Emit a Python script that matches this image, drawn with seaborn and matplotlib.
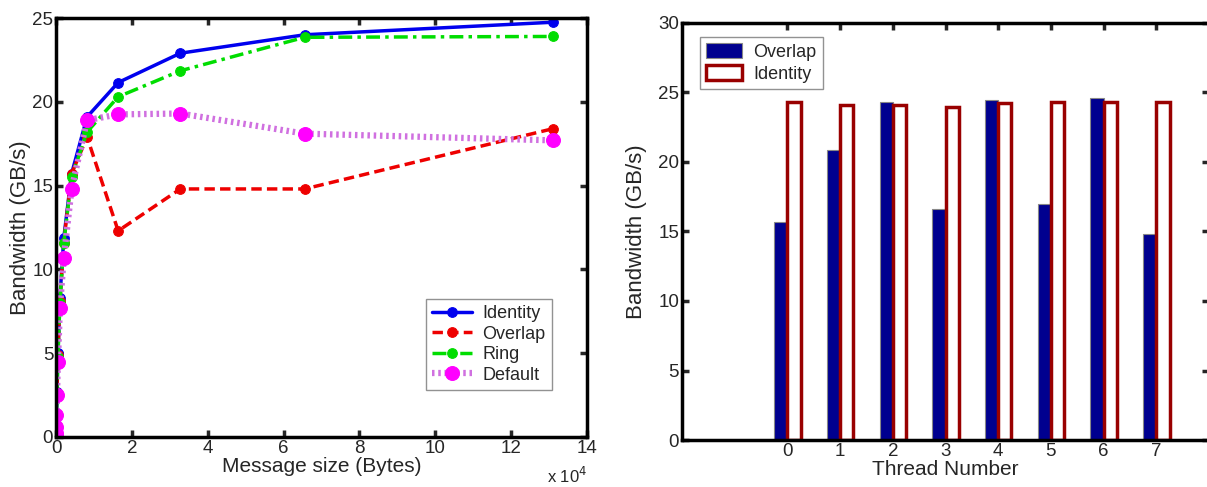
import numpy as np
import pandas as pd
import matplotlib
matplotlib.use("Agg")
import matplotlib.pyplot as plt
import seaborn as sns

# ---- data: left panel (bandwidth vs message size) ----
msg_sizes = [16, 32, 64, 128, 256, 512, 1024, 2048, 4096, 8192,
             16384, 32768, 65536, 131072]
identity_bw = [0.1, 0.3, 0.7, 1.4, 2.7, 5.0, 8.3, 11.85, 15.7, 19.1,
               21.15, 22.9, 24.0, 24.75]
overlap_bw = [0.1, 0.3, 0.7, 1.4, 2.6, 4.9, 8.1, 11.6, 15.7, 17.9,
              12.3, 14.8, 14.8, 18.4]
ring_bw = [0.1, 0.3, 0.7, 1.4, 2.6, 4.8, 8.0, 11.55, 15.5, 18.2,
           20.3, 21.85, 23.85, 23.9]
default_bw = [0.1, 0.25, 0.6, 1.3, 2.5, 4.5, 7.7, 10.7, 14.8, 18.9,
              19.25, 19.3, 18.1, 17.7]

# ---- data: right panel (bandwidth per thread) ----
threads = ["0", "1", "2", "3", "4", "5", "6", "7"]
overlap_thread = [15.7, 20.85, 24.3, 16.65, 24.45, 17.0, 24.6, 14.8]
identity_thread = [24.35, 24.1, 24.1, 23.95, 24.25, 24.35, 24.3, 24.35]

sns.set_style("ticks")
plt.rcParams["font.family"] = ["Liberation Sans", "DejaVu Sans"]
plt.rcParams["font.size"] = 13
plt.rcParams["xtick.direction"] = "in"
plt.rcParams["ytick.direction"] = "in"

fig = plt.figure(figsize=(12.07, 4.87), dpi=100)

TICK_FS = 13.5
XLAB_FS = 15
YLAB_FS = 16
LEG_FS = 13

# ================= left panel =================
ax1 = fig.add_axes([0.0464, 0.1027, 0.44, 0.8603])
xs = np.array(msg_sizes) / 1e4

series = [
    ("Identity", identity_bw, "#0000ee", "-", 2.5, 7, "#0000ee"),
    ("Overlap", overlap_bw, "#ee0000", (0, (3, 1.5)), 2.5, 7, "#ee0000"),
    ("Ring", ring_bw, "#00dd00", (0, (4, 1.5, 1, 1.5)), 2.5, 7, "#00dd00"),
    ("Default", default_bw, "#d070e0", (0, (0.4, 0.6)), 4.5, 10, "#ff00ff"),
]
for name, vals, col, ls, lw, ms, mc in series:
    sns.lineplot(x=xs, y=vals, ax=ax1, color=col, linestyle=ls, linewidth=lw,
                 marker="o", markersize=ms, markerfacecolor=mc,
                 markeredgecolor=mc, label=name, sort=False)

ax1.set_xlim(0, 14)
ax1.set_ylim(0, 25)
ax1.set_xticks(range(0, 15, 2))
ax1.set_yticks(range(0, 26, 5))
ax1.set_xlabel("Message size (Bytes)", fontsize=XLAB_FS, labelpad=0)
ax1.set_ylabel("Bandwidth (GB/s)", fontsize=YLAB_FS, labelpad=1)
ax1.text(0.925, -0.07, r"x 10$^4$", transform=ax1.transAxes, fontsize=12,
         ha="left", va="top")
for sp in ax1.spines.values():
    sp.set_linewidth(2.5)
    sp.set_color("black")
ax1.tick_params(axis="both", which="both", top=True, right=True, length=5,
                width=2.5, labelsize=TICK_FS, pad=2)
leg1 = ax1.legend(loc="lower right", bbox_to_anchor=(0.934, 0.112),
                  borderaxespad=0,
                  frameon=True, fancybox=False, fontsize=LEG_FS,
                  handlelength=2.2, borderpad=0.35, labelspacing=0.2,
                  handletextpad=0.6)
leg1.get_frame().set_edgecolor("#777777")
leg1.get_frame().set_linewidth(1)

# ================= right panel =================
ax2 = fig.add_axes([0.565, 0.0965, 0.4367, 0.8563])
df = pd.DataFrame({
    "thread": threads * 2,
    "bw": overlap_thread + identity_thread,
    "kind": ["Overlap"] * len(threads) + ["Identity"] * len(threads),
})
sns.barplot(data=df, x="thread", y="bw", hue="kind", ax=ax2,
            hue_order=["Overlap", "Identity"], width=0.5, gap=0.0,
            palette={"Overlap": "#00008f", "Identity": "white"},
            saturation=1, errorbar=None, legend=False)
for p in ax2.containers[0]:
    p.set_edgecolor("#888888")
    p.set_linewidth(0.8)
for p in ax2.containers[1]:
    p.set_edgecolor("#990000")
    p.set_linewidth(2.5)
    p.set_facecolor("white")

ax2.set_xlim(-2, 8)
ax2.set_ylim(0, 30)
ax2.set_yticks(range(0, 31, 5))
ax2.set_xlabel("Thread Number", fontsize=XLAB_FS, labelpad=0)
ax2.set_ylabel("Bandwidth (GB/s)", fontsize=YLAB_FS, labelpad=8)
for sp in ax2.spines.values():
    sp.set_linewidth(2.5)
    sp.set_color("black")
ax2.tick_params(axis="both", which="both", top=True, right=True, length=5,
                width=2.5, labelsize=TICK_FS, pad=2)
leg2 = ax2.legend([ax2.containers[0], ax2.containers[1]],
                  ["Overlap", "Identity"], loc="upper left",
                  bbox_to_anchor=(0.034, 0.966), borderaxespad=0,
                  frameon=True, fancybox=False, fontsize=LEG_FS,
                  handlelength=2.0, handleheight=0.9, borderpad=0.35,
                  labelspacing=0.2, handletextpad=0.6)
leg2.get_frame().set_edgecolor("#777777")
leg2.get_frame().set_linewidth(1)

fig.savefig("out.png", dpi=100)
